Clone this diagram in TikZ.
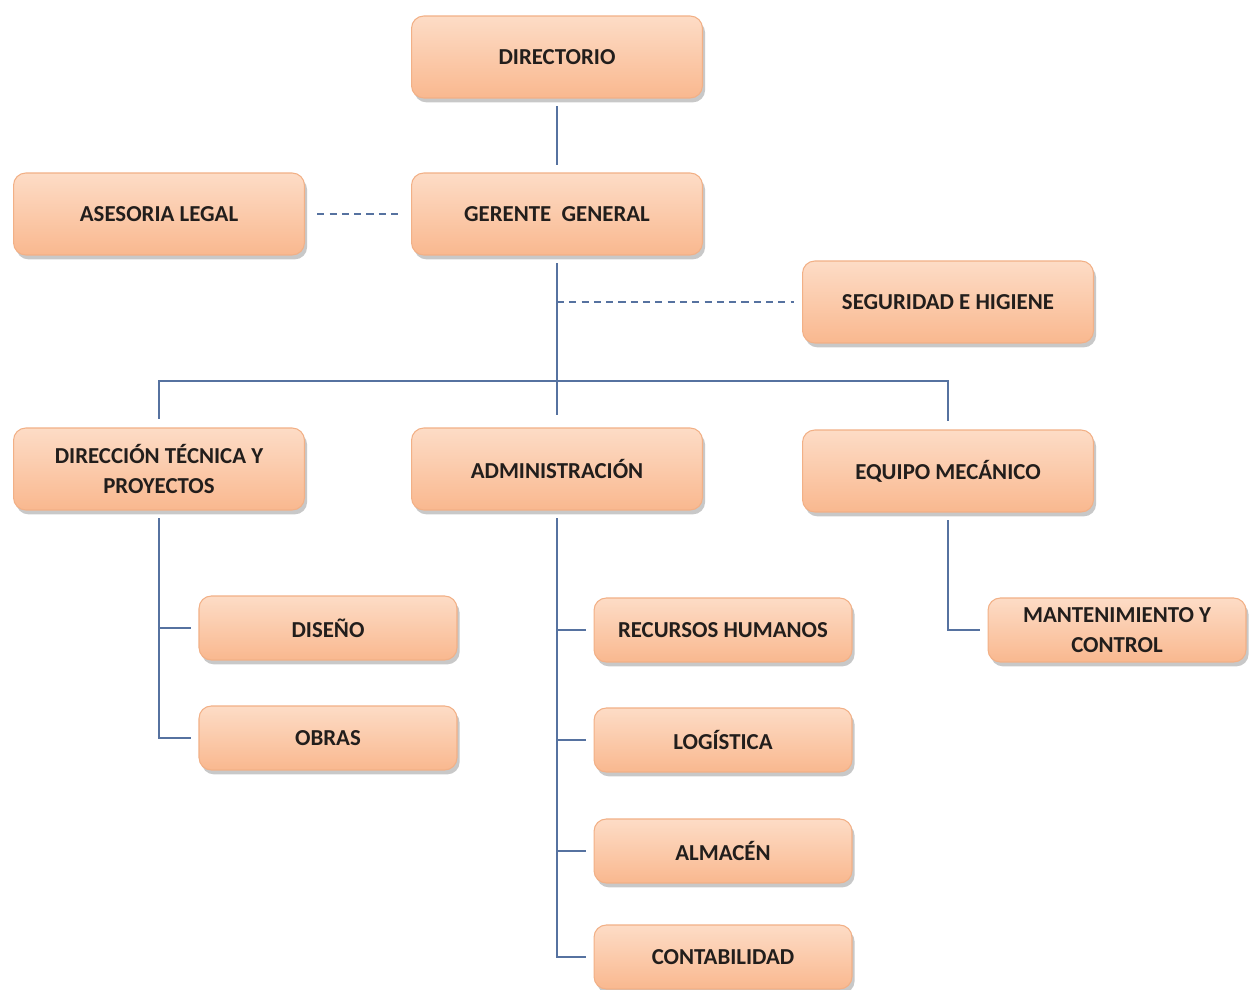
\documentclass[tikz,border=0pt]{standalone}
\usepackage{fontspec}
\setmainfont{Carlito}
\usetikzlibrary{positioning,shadows}
\definecolor{boxtop}{RGB}{253,220,198}
\definecolor{boxbot}{RGB}{249,184,143}
\definecolor{boxedge}{RGB}{242,176,134}
\definecolor{linkcol}{RGB}{86,114,160}
\definecolor{inkcol}{RGB}{34,30,28}
\tikzstyle{unit}=[rounded corners=7pt, top color=boxtop, bottom color=boxbot, draw=boxedge, line width=0.6pt,
  drop shadow={shadow xshift=1.5pt, shadow yshift=-2.5pt, opacity=0.3, fill=black!70},
  minimum width=5.82cm, minimum height=1.64cm, align=center, text=inkcol,
  font=\fontsize{13}{17}\selectfont\bfseries]
\tikzstyle{subunit}=[unit, minimum width=5.16cm, minimum height=1.28cm]
\tikzstyle{link}=[draw=linkcol, line width=1.1pt]
\tikzstyle{staff}=[link, dash pattern=on 4pt off 3pt]

\begin{document}
\begin{tikzpicture}[x=0.02cm, y=-0.02cm]
  \fill[white] (0,0) rectangle (1252,990);
  \useasboundingbox (0,0) rectangle (1252,990);

  % top levels
  \node[unit] (dir) at (557,57) {DIRECTORIO};
  \node[unit] (ger) at (557,214) {GERENTE\ \ GENERAL};
  \node[unit] (ase) at (159,214) {ASESORIA LEGAL};
  \node[unit] (seg) at (948,302) {SEGURIDAD E HIGIENE};

  % departments
  \node[unit] (dtp) at (159,469) {DIRECCIÓN TÉCNICA Y\\PROYECTOS};
  \node[unit] (adm) at (557,469) {ADMINISTRACIÓN};
  \node[unit] (eqm) at (948,471) {EQUIPO MECÁNICO};

  % areas
  \node[subunit] (dis) at (328,628) {DISEÑO};
  \node[subunit] (obr) at (328,738) {OBRAS};
  \node[subunit] (rrhh) at (723,630) {RECURSOS HUMANOS};
  \node[subunit] (log) at (723,740) {LOGÍSTICA};
  \node[subunit] (alm) at (723,851) {ALMACÉN};
  \node[subunit] (con) at (723,957) {CONTABILIDAD};
  \node[subunit] (mant) at (1117,630) {MANTENIMIENTO Y\\CONTROL};

  \coordinate (bus) at (557,381);

  \draw[link, shorten <=4.5pt, shorten >=4.5pt] (dir) -- (ger);
  \draw[link, shorten <=4.5pt, shorten >=7pt] (ger) -- (adm);
  \draw[link, shorten <=5pt, shorten >=5pt] (dtp.north) |- (bus) -| (eqm.north);
  \draw[staff, shorten <=7pt, shorten >=5.5pt] (ase) -- (ger);
  \draw[staff, shorten >=4.5pt] (seg.west -| ger.south) -- (seg.west);

  \draw[link, shorten <=4.5pt, shorten >=4.5pt] (dtp.south) |- (obr.west);
  \draw[link, shorten >=4.5pt] (dtp.south |- dis.west) -- (dis.west);
  \draw[link, shorten <=4.5pt, shorten >=4pt] (adm.south) |- (con.west);
  \foreach \n in {rrhh,log,alm}
    \draw[link, shorten >=4pt] (adm.south |- \n.west) -- (\n.west);
  \draw[link, shorten <=4.5pt, shorten >=4.5pt] (eqm.south) |- (mant.west);
\end{tikzpicture}
\end{document}
